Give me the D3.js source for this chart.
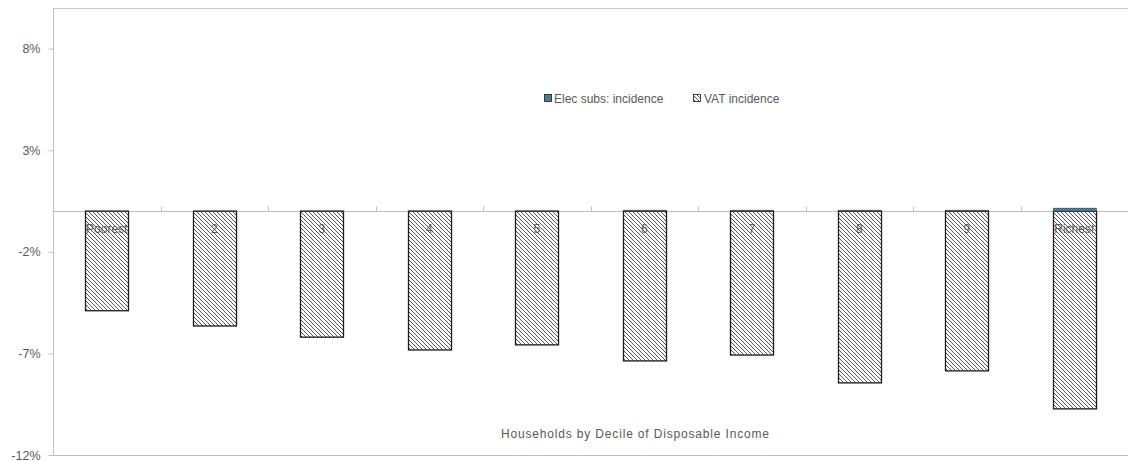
<!DOCTYPE html>
<meta charset="utf-8">
<head>
<script src="https://d3js.org/d3.v7.min.js"></script>
<style>
  body { margin: 0; background: #fff; font-family: "Liberation Sans", "DejaVu Sans", sans-serif; }
  svg { display: block; }
  .lbl { fill: #595959; font-size: 12px; }
</style>
</head>
<body>
<script>
  // deciles and series (percent of disposable income)
  var deciles = ["Poorest", "2", "3", "4", "5", "6", "7", "8", "9", "Richest"];
  var elecSubs = [0.005, 0.005, 0.01, 0.01, 0.01, 0.05, 0.05, 0.05, 0.05, 0.15];
  var vatIncidence = [-4.9, -5.65, -6.2, -6.83, -6.58, -7.37, -7.08, -8.45, -7.86, -9.73];
  var yTicks = [8, 3, -2, -7, -12];

  var width = 1130, height = 461;
  var margin = {top: 8, right: 2, bottom: 6, left: 53};
  var innerW = width - margin.left - margin.right,
      innerH = height - margin.top - margin.bottom;

  var svg = d3.select("body").append("svg")
    .attr("width", width)
    .attr("height", height);

  var defs = svg.append("defs");
  var pat = defs.append("pattern")
    .attr("id", "hatch")
    .attr("patternUnits", "userSpaceOnUse")
    .attr("width", 4).attr("height", 4);
  pat.append("rect").attr("width", 4).attr("height", 4).attr("fill", "#fff");
  pat.append("path")
    .attr("d", "M-1,-1 L5,5 M-1,3 L1,5 M3,-1 L5,1")
    .attr("stroke", "#555")
    .attr("stroke-width", 1);

  var g = svg.append("g").attr("transform", "translate(" + margin.left + "," + margin.top + ")");

  var x = d3.scaleBand().domain(deciles).range([0, innerW]).paddingInner(0.6).paddingOuter(0.3);
  var xc = d3.scaleBand().domain(deciles).range([0, innerW]);
  var y = d3.scaleLinear().domain([-12, 10]).range([innerH, 0]);

  // frame
  g.append("line").attr("x1", 0).attr("x2", innerW).attr("y1", 0.5).attr("y2", 0.5).attr("stroke", "#c8c8c8");
  g.append("line").attr("x1", 0).attr("x2", innerW).attr("y1", innerH + 0.5).attr("y2", innerH + 0.5).attr("stroke", "#bfbfbf");

  // y axis
  var yAxis = g.append("g").attr("transform", "translate(0.5,0)")
    .call(d3.axisLeft(y).tickValues(yTicks).tickSize(5).tickFormat(function(d) { return d + "%"; }));
  yAxis.select(".domain").attr("stroke", "#bfbfbf").attr("d", "M0," + 0 + "V" + innerH);
  yAxis.selectAll(".tick line").attr("stroke", "#bfbfbf");
  yAxis.selectAll(".tick text").attr("fill", "#595959").attr("font-size", 12.5)
    .attr("font-family", "Liberation Sans, sans-serif").attr("x", -13);

  // zero line with category ticks
  var zeroY = Math.round(y(0)) + 0.5;
  g.append("line").attr("x1", 0).attr("x2", innerW).attr("y1", zeroY).attr("y2", zeroY).attr("stroke", "#bfbfbf");
  g.selectAll(".ctick").data(deciles.slice(1)).enter().append("line")
    .attr("x1", function(d) { return Math.round(xc(d)) + 0.5; })
    .attr("x2", function(d) { return Math.round(xc(d)) + 0.5; })
    .attr("y1", zeroY).attr("y2", zeroY - 5).attr("stroke", "#bfbfbf");

  // VAT bars
  g.selectAll(".vat").data(vatIncidence).enter().append("rect")
    .attr("x", function(d, i) { return Math.round(x(deciles[i])) + 0.5; })
    .attr("y", y(0))
    .attr("width", Math.round(x.bandwidth()))
    .attr("height", function(d) { return y(d) - y(0); })
    .attr("fill", "url(#hatch)")
    .attr("stroke", "#1a1a1a")
    .attr("stroke-width", 1.3);

  // elec subsidy bars
  g.selectAll(".elec").data(elecSubs).enter().append("rect")
    .attr("x", function(d, i) { return Math.round(x(deciles[i])) + 0.5; })
    .attr("y", function(d) { return y(d); })
    .attr("width", Math.round(x.bandwidth()))
    .attr("height", function(d) { return y(0) - y(d); })
    .attr("fill", "#4a7c99")
    .attr("stroke", "#333")
    .attr("stroke-width", 0.5);

  // category labels inside plot
  g.selectAll(".cat").data(deciles).enter().append("text")
    .attr("class", "lbl")
    .attr("x", function(d) { return xc(d) + xc.bandwidth() / 2; })
    .attr("y", y(0) + 22)
    .attr("text-anchor", "middle")
    .text(function(d) { return d; });

  // axis title
  g.append("text").attr("class", "lbl")
    .attr("x", 582)
    .attr("y", innerH - 17)
    .attr("text-anchor", "middle")
    .attr("textLength", 268)
    .text("Households by Decile of Disposable Income");

  // legend
  var leg = svg.append("g").attr("transform", "translate(544,94)");
  leg.append("rect").attr("x", 0.5).attr("y", 0.5).attr("width", 7).attr("height", 7)
    .attr("fill", "#4a7c99").attr("stroke", "#1a1a1a").attr("stroke-width", 0.8);
  leg.append("text").attr("class", "lbl").attr("x", 10).attr("y", 9).text("Elec subs: incidence");
  leg.append("rect").attr("x", 149.5).attr("y", 0.5).attr("width", 7).attr("height", 7)
    .attr("fill", "url(#hatch)").attr("stroke", "#1a1a1a").attr("stroke-width", 0.8);
  leg.append("text").attr("class", "lbl").attr("x", 160).attr("y", 9).text("VAT incidence");
</script>
</body>
